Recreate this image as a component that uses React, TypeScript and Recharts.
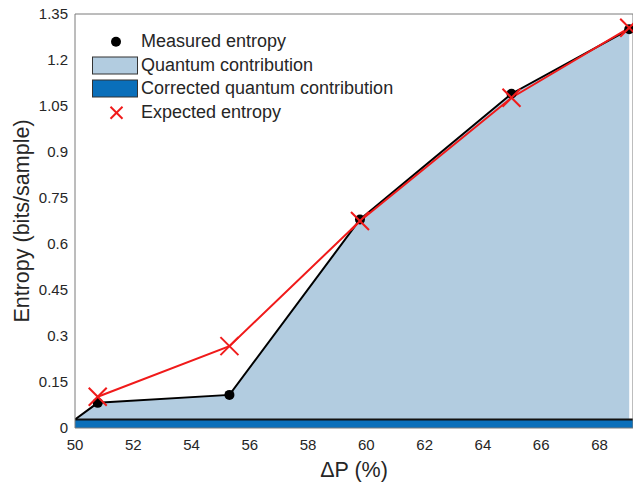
import React from "react";
import {
  ComposedChart,
  Area,
  Line,
  Scatter,
  XAxis,
  YAxis,
} from "recharts";

// ---- data ----
const deltaP = [50.78, 55.3, 59.78, 64.98, 69.02];
const measuredEntropy = [0.082, 0.108, 0.68, 1.09, 1.3];
const expectedEntropy = [0.102, 0.267, 0.675, 1.077, 1.305];
const quantumStartX = 50;
const quantumStartValue = 0.028;
const correctedX = [50, 69.15];
const correctedValue = [0.028, 0.028];

const xTicks = [50, 52, 54, 56, 58, 60, 62, 64, 66, 68];
const yTicks = [0, 0.15, 0.3, 0.45, 0.6, 0.75, 0.9, 1.05, 1.2, 1.35];
const yTickLabels = ["0", "0.15", "0.3", "0.45", "0.6", "0.75", "0.9", "1.05", "1.2", "1.35"];

const legendLabels = [
  "Measured entropy",
  "Quantum contribution",
  "Corrected quantum contribution",
  "Expected entropy",
];

// ---- build table ----
const xs = Array.from(new Set([quantumStartX, ...deltaP, ...correctedX])).sort((a, b) => a - b);
const table = xs.map((x) => {
  const row: any = { x };
  if (x === quantumStartX) row.quantum = quantumStartValue;
  const mi = deltaP.indexOf(x);
  if (mi >= 0) row.quantum = measuredEntropy[mi];
  const ci = correctedX.indexOf(x);
  if (ci >= 0) row.corrected = correctedValue[ci];
  return row;
});
const measuredPoints = deltaP.map((x, i) => ({ x, y: measuredEntropy[i] }));
const expectedPoints = deltaP.map((x, i) => ({ x, y: expectedEntropy[i] }));

const FONT = "'Liberation Sans', Arial, Helvetica, sans-serif";
const TEXT = "#262626";
const AXIS = "#7a7a7a";
const LIGHT = "#b2cce0";
const DARK = "#0a6fba";
const RED = "#f01a1a";

const XMark = (props: any) => {
  const { cx, cy } = props;
  if (cx == null || cy == null) return null;
  const s = 9;
  return (
    <g>
      <line x1={cx - s} y1={cy - s} x2={cx + s} y2={cy + s} stroke={RED} strokeWidth={2} />
      <line x1={cx - s} y1={cy + s} x2={cx + s} y2={cy - s} stroke={RED} strokeWidth={2} />
    </g>
  );
};

const Dot = (props: any) => {
  const { cx, cy } = props;
  if (cx == null || cy == null) return null;
  return <circle cx={cx} cy={cy} r={5} fill="#000" />;
};

const YTitle = (props: any) => {
  const vb = props.viewBox || { x: 0, y: 14, width: 75, height: 414 };
  const cx = 22;
  const cy = vb.y + vb.height / 2;
  return (
    <text
      x={cx}
      y={cy}
      transform={`rotate(-90 ${cx} ${cy})`}
      textAnchor="middle"
      dominantBaseline="central"
      fontSize={21.5}
      fontFamily={FONT}
      fill={TEXT}
    >
      Entropy (bits/sample)
    </text>
  );
};

const XTitle = (props: any) => {
  const vb = props.viewBox || { x: 75, y: 428, width: 558, height: 54 };
  const cx = vb.x + vb.width / 2;
  return (
    <text x={cx} y={477} textAnchor="middle" fontSize={21.5} fontFamily={FONT} fill={TEXT}>
      ΔP (%)
    </text>
  );
};

const Legend = () => {
  const rowTop = 30;
  const rowH = 23.6;
  return (
    <div
      style={{
        position: "absolute",
        left: 0,
        top: 0,
        pointerEvents: "none",
        fontFamily: FONT,
        fontSize: 18,
        color: TEXT,
      }}
    >
      {legendLabels.map((label, i) => {
        const top = rowTop + i * rowH;
        let icon: React.ReactNode = null;
        if (i === 0) {
          icon = (
            <svg width={46} height={rowH} style={{ display: "block" }}>
              <circle cx={24} cy={rowH / 2} r={5} fill="#000" />
            </svg>
          );
        } else if (i === 1 || i === 2) {
          icon = (
            <svg width={46} height={rowH} style={{ display: "block" }}>
              <rect
                x={0.5}
                y={3}
                width={45}
                height={17}
                fill={i === 1 ? LIGHT : DARK}
                stroke="#333"
                strokeWidth={1}
              />
            </svg>
          );
        } else {
          icon = (
            <svg width={46} height={rowH} style={{ display: "block" }}>
              <line x1={18.5} y1={rowH / 2 - 6} x2={30.5} y2={rowH / 2 + 6} stroke={RED} strokeWidth={2} />
              <line x1={18.5} y1={rowH / 2 + 6} x2={30.5} y2={rowH / 2 - 6} stroke={RED} strokeWidth={2} />
            </svg>
          );
        }
        return (
          <div
            key={label}
            style={{
              position: "absolute",
              left: 92,
              top,
              height: rowH,
              display: "flex",
              alignItems: "center",
              whiteSpace: "nowrap",
            }}
          >
            {icon}
            <span style={{ marginLeft: 3, lineHeight: `${rowH}px` }}>{label}</span>
          </div>
        );
      })}
    </div>
  );
};

export default function App() {
  return (
    <div style={{ position: "absolute", left: 0, top: 0, width: 633, height: 482, background: "#fff" }}>
      <ComposedChart
        width={633}
        height={482}
        data={table}
        margin={{ top: 14, right: 0, bottom: 0, left: 0 }}
      >
        <XAxis
          xAxisId="main"
          dataKey="x"
          type="number"
          domain={[50, 69.15]}
          ticks={xTicks}
          allowDataOverflow
          height={54}
          tickLine={false}
          axisLine={false}
          tickSize={0}
          tickMargin={11}
          tick={{ fill: TEXT, fontSize: 15, fontFamily: FONT }}
          label={XTitle}
        />
        <XAxis
          xAxisId="top"
          dataKey="x"
          type="number"
          orientation="top"
          domain={[50, 69.15]}
          ticks={xTicks}
          allowDataOverflow
          mirror
          tick={false}
          tickSize={6}
          stroke={AXIS}
        />
        <XAxis
          xAxisId="bottomTicks"
          dataKey="x"
          type="number"
          orientation="bottom"
          domain={[50, 69.15]}
          ticks={xTicks}
          allowDataOverflow
          mirror
          tick={false}
          tickSize={6}
          stroke={AXIS}
        />
        <YAxis
          yAxisId="main"
          type="number"
          domain={[0, 1.35]}
          ticks={yTicks}
          allowDataOverflow
          width={75}
          tickLine={false}
          axisLine={false}
          tickSize={0}
          tickMargin={7}
          tickFormatter={(v: number) => yTickLabels[yTicks.indexOf(v)] ?? String(v)}
          tick={{ fill: TEXT, fontSize: 15, fontFamily: FONT }}
          label={YTitle}
        />
        <YAxis
          yAxisId="leftTicks"
          type="number"
          domain={[0, 1.35]}
          ticks={yTicks}
          allowDataOverflow
          mirror
          tick={false}
          tickSize={6}
          stroke={AXIS}
        />
        <YAxis
          yAxisId="rightTicks"
          type="number"
          orientation="right"
          domain={[0, 1.35]}
          ticks={yTicks}
          allowDataOverflow
          mirror
          tick={false}
          tickSize={6}
          stroke={AXIS}
        />
        <Area
          xAxisId="main"
          yAxisId="main"
          dataKey="quantum"
          type="linear"
          fill={LIGHT}
          fillOpacity={1}
          stroke="none"
          isAnimationActive={false}
          dot={false}
          activeDot={false}
        />
        <Area
          xAxisId="main"
          yAxisId="main"
          dataKey="corrected"
          type="linear"
          connectNulls
          fill={DARK}
          fillOpacity={1}
          stroke="#111"
          strokeWidth={2}
          isAnimationActive={false}
          dot={false}
          activeDot={false}
        />
        <Line
          xAxisId="main"
          yAxisId="main"
          dataKey="quantum"
          type="linear"
          connectNulls
          stroke="#000"
          strokeWidth={2}
          dot={false}
          activeDot={false}
          isAnimationActive={false}
        />
        <Scatter
          xAxisId="main"
          yAxisId="main"
          data={measuredPoints}
          dataKey="y"
          shape={Dot}
          isAnimationActive={false}
        />
        <Line
          xAxisId="main"
          yAxisId="main"
          data={expectedPoints}
          dataKey="y"
          type="linear"
          stroke={RED}
          strokeWidth={2}
          dot={XMark}
          activeDot={false}
          isAnimationActive={false}
        />
      </ComposedChart>
      <Legend />
    </div>
  );
}
